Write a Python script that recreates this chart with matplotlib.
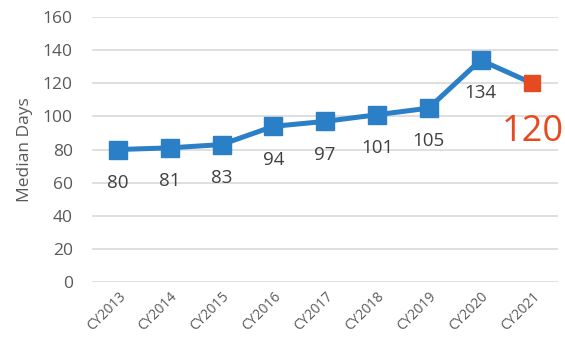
import matplotlib
matplotlib.use("Agg")
import matplotlib.pyplot as plt

categories = ["CY2013", "CY2014", "CY2015", "CY2016", "CY2017", "CY2018", "CY2019", "CY2020", "CY2021"]
values = [80, 81, 83, 94, 97, 101, 105, 134, 120]
y_ticks = [0, 20, 40, 60, 80, 100, 120, 140, 160]

plt.rcParams['font.family'] = ['Open Sans', 'DejaVu Sans']
blue = "#2B7FC6"
red = "#E64A20"
gray = "#595959"

fig = plt.figure(figsize=(5.65, 3.41), dpi=100)
ax = fig.add_axes([0.163, 0.173, 0.825, 0.777])
x = list(range(len(categories)))
ax.plot(x, values, color=blue, lw=3.6, zorder=3)
ax.plot(x[:-1], values[:-1], ls="none", marker="s", ms=13, color=blue, zorder=4)
ax.plot(x[-1:], values[-1:], ls="none", marker="s", ms=12, color=red, zorder=4)

for i, v in enumerate(values[:-1]):
    ax.annotate(str(v), (i, v), xytext=(0, -24), textcoords="offset points",
                ha="center", va="center", fontsize=13.5, color="#404040")
ax.annotate(str(values[-1]), (x[-1], values[-1]), xytext=(0, -35), textcoords="offset points",
            ha="center", va="center", fontsize=26, color=red)

ax.set_xlim(-0.5, len(categories) - 0.5)
ax.set_ylim(0, 160)
ax.set_yticks(y_ticks)
ax.set_xticks(x)
ax.set_xticklabels(categories, rotation=45, ha="right", rotation_mode="anchor", fontsize=10, color=gray)
ax.tick_params(axis="y", labelsize=12.5, labelcolor=gray, length=0, pad=14)
ax.tick_params(axis="x", length=0, pad=5)
ax.grid(axis="y", color="#D9D9D9", lw=1.2)
ax.set_axisbelow(True)
for s in ax.spines.values():
    s.set_visible(False)
ax.set_ylabel("Median Days", fontsize=12.5, color=gray, labelpad=7)

fig.savefig("out.png", dpi=100)
